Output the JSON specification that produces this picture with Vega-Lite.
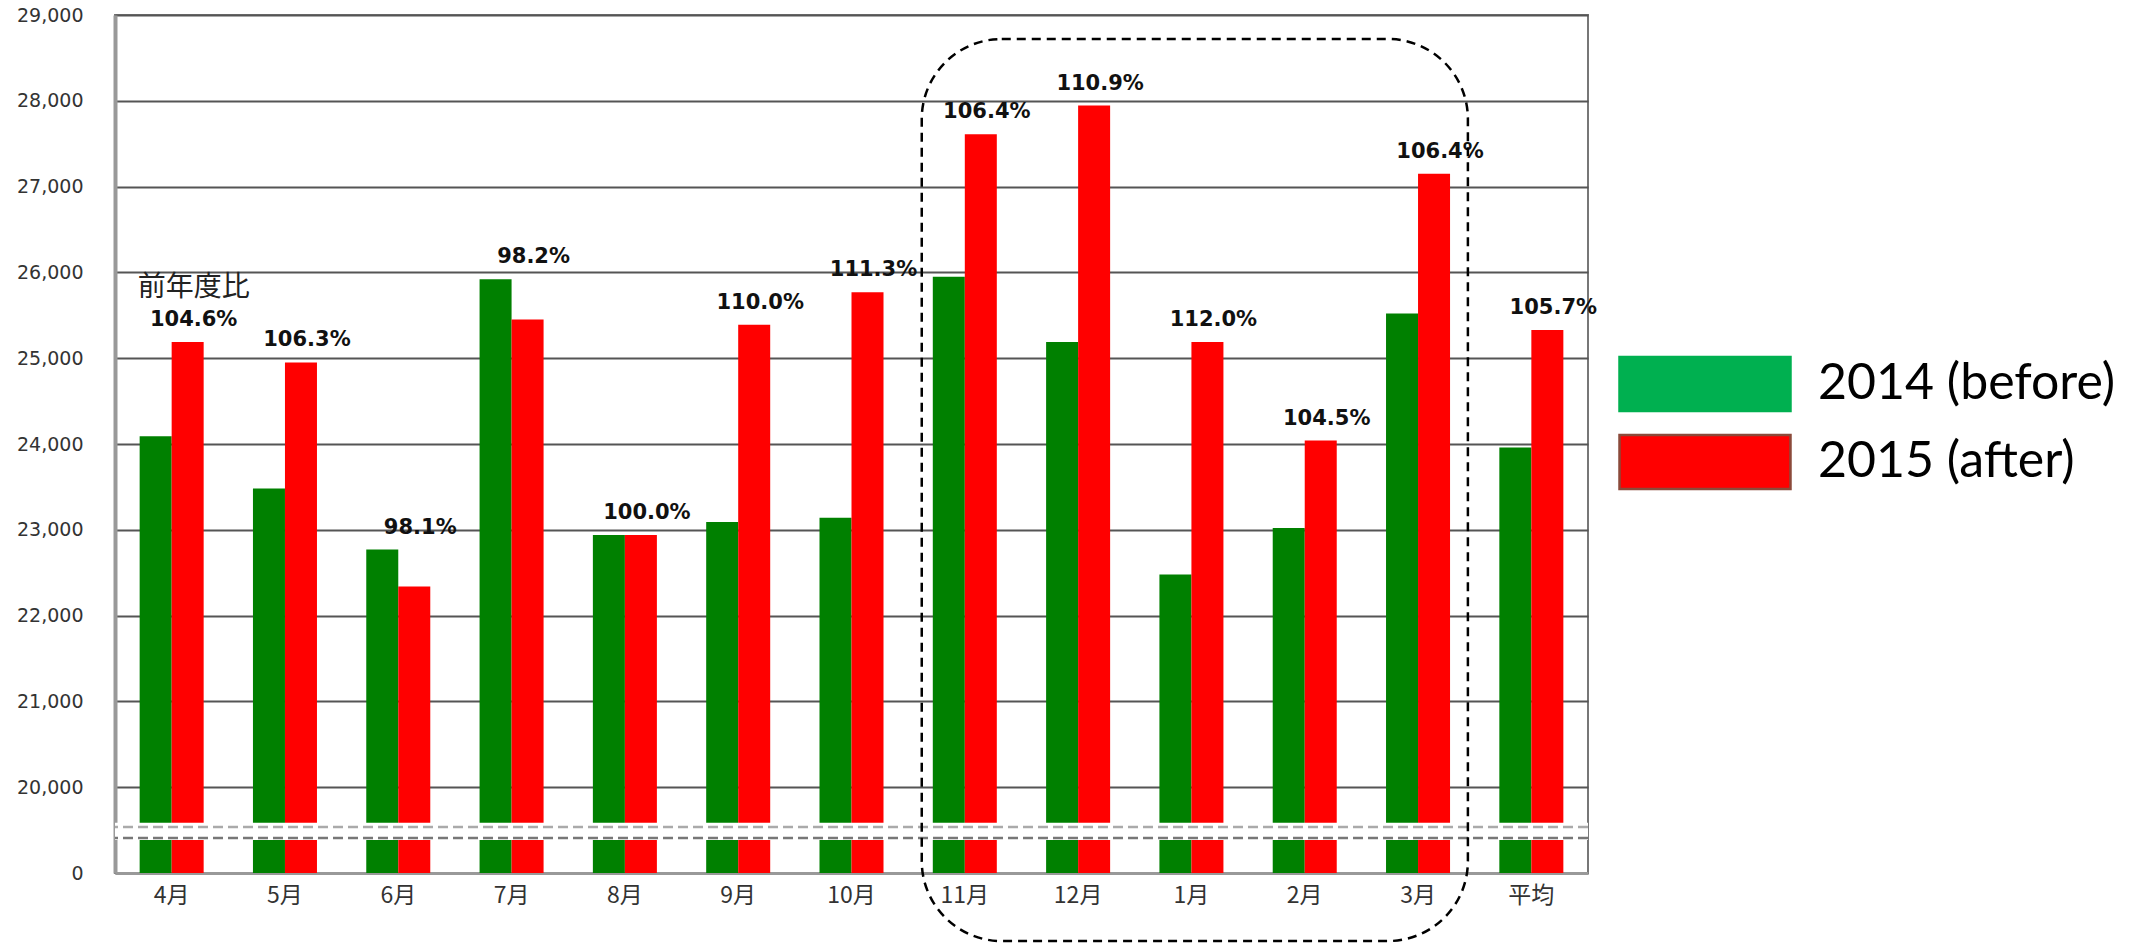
{
  "$schema": "https://vega.github.io/schema/vega-lite/v6.json",
  "width": 1473,
  "height": 858,
  "autosize": {"type": "none"},
  "padding": {"left": 115, "top": 15, "right": 553, "bottom": 72},
  "background": "white",
  "config": {
    "view": {"stroke": "#777", "strokeWidth": 2}
  },
  "data": {
    "values": [
      {"month": "4月", "series": "2014 (before)", "value": 24090, "ratio": "104.6%"},
      {"month": "4月", "series": "2015 (after)", "value": 25190, "ratio": "104.6%"},
      {"month": "5月", "series": "2014 (before)", "value": 23480, "ratio": "106.3%"},
      {"month": "5月", "series": "2015 (after)", "value": 24950, "ratio": "106.3%"},
      {"month": "6月", "series": "2014 (before)", "value": 22770, "ratio": "98.1%"},
      {"month": "6月", "series": "2015 (after)", "value": 22340, "ratio": "98.1%"},
      {"month": "7月", "series": "2014 (before)", "value": 25920, "ratio": "98.2%"},
      {"month": "7月", "series": "2015 (after)", "value": 25450, "ratio": "98.2%"},
      {"month": "8月", "series": "2014 (before)", "value": 22940, "ratio": "100.0%"},
      {"month": "8月", "series": "2015 (after)", "value": 22940, "ratio": "100.0%"},
      {"month": "9月", "series": "2014 (before)", "value": 23090, "ratio": "110.0%"},
      {"month": "9月", "series": "2015 (after)", "value": 25390, "ratio": "110.0%"},
      {"month": "10月", "series": "2014 (before)", "value": 23140, "ratio": "111.3%"},
      {"month": "10月", "series": "2015 (after)", "value": 25770, "ratio": "111.3%"},
      {"month": "11月", "series": "2014 (before)", "value": 25950, "ratio": "106.4%"},
      {"month": "11月", "series": "2015 (after)", "value": 27610, "ratio": "106.4%"},
      {"month": "12月", "series": "2014 (before)", "value": 25190, "ratio": "110.9%"},
      {"month": "12月", "series": "2015 (after)", "value": 27945, "ratio": "110.9%"},
      {"month": "1月", "series": "2014 (before)", "value": 22480, "ratio": "112.0%"},
      {"month": "1月", "series": "2015 (after)", "value": 25190, "ratio": "112.0%"},
      {"month": "2月", "series": "2014 (before)", "value": 23020, "ratio": "104.5%"},
      {"month": "2月", "series": "2015 (after)", "value": 24040, "ratio": "104.5%"},
      {"month": "3月", "series": "2014 (before)", "value": 25520, "ratio": "106.4%"},
      {"month": "3月", "series": "2015 (after)", "value": 27150, "ratio": "106.4%"},
      {"month": "平均", "series": "2014 (before)", "value": 23960, "ratio": "105.7%"},
      {"month": "平均", "series": "2015 (after)", "value": 25330, "ratio": "105.7%"}
    ]
  },
  "layer": [
    {
      "mark": {"type": "bar"},
      "encoding": {
        "x": {
          "field": "month",
          "type": "nominal",
          "scale": {
            "domain": ["4月", "5月", "6月", "7月", "8月", "9月", "10月", "11月", "12月", "1月", "2月", "3月", "平均"],
            "paddingInner": 0,
            "paddingOuter": 0
          },
          "axis": {
            "title": null,
            "labelAngle": 0,
            "ticks": false,
            "grid": false,
            "labelPadding": 11,
            "labelFont": "Noto Sans CJK JP",
            "labelFontSize": 23,
            "labelColor": "#333",
            "domainColor": "#999",
            "domainWidth": 3
          }
        },
        "xOffset": {
          "field": "series",
          "type": "nominal",
          "scale": {"paddingInner": 0, "paddingOuter": 0.77}
        },
        "y": {
          "field": "value",
          "type": "quantitative",
          "scale": {"domain": [19000, 29000], "zero": false, "nice": false},
          "axis": {
            "title": null,
            "values": [19000, 20000, 21000, 22000, 23000, 24000, 25000, 26000, 27000, 28000, 29000],
            "labelExpr": "datum.value == 19000 ? '0' : format(datum.value, ',')",
            "ticks": false,
            "labelPadding": 32,
            "labelFont": "DejaVu Sans",
            "labelFontSize": 19,
            "labelColor": "#333",
            "domainColor": "#999",
            "domainWidth": 4,
            "gridColor": "#555",
            "gridWidth": 2
          }
        },
        "y2": {"datum": 19000},
        "color": {
          "field": "series",
          "type": "nominal",
          "scale": {"range": ["#008000", "#FF0000"]},
          "legend": null
        }
      }
    },
    {
      "mark": {"type": "bar", "strokeWidth": 2.5},
      "encoding": {
        "x": {"field": "month", "type": "nominal"},
        "y": {"datum": 19490},
        "y2": {"datum": 19490},
        "fill": {
          "field": "series",
          "type": "nominal",
          "scale": {"domain": ["2014 (before)", "2015 (after)"], "range": ["#00B050", "#FF0000"]},
          "legend": {
            "title": null,
            "orient": "none",
            "legendX": 1501,
            "legendY": 325,
            "padding": 0,
            "symbolType": "M-2,-0.632L2,-0.632L2,0.632L-2,0.632Z",
            "symbolSize": 7310,
            "symbolOffset": 45,
            "symbolStrokeWidth": 2.5,
            "symbolOpacity": 1,
            "labelFont": "Lato",
            "labelFontSize": 50,
            "labelColor": "#000",
            "labelOffset": 69,
            "labelLimit": 0,
            "rowPadding": 1
          }
        },
        "stroke": {
          "field": "series",
          "type": "nominal",
          "scale": {"domain": ["2014 (before)", "2015 (after)"], "range": ["#00B050", "#8B4A3A"]},
          "legend": {
            "title": null,
            "orient": "none",
            "legendX": 1501,
            "legendY": 325,
            "padding": 0,
            "symbolType": "M-2,-0.632L2,-0.632L2,0.632L-2,0.632Z",
            "symbolSize": 7310,
            "symbolOffset": 45,
            "symbolStrokeWidth": 2.5,
            "symbolOpacity": 1,
            "labelFont": "Lato",
            "labelFontSize": 50,
            "labelColor": "#000",
            "labelOffset": 69,
            "labelLimit": 0,
            "rowPadding": 1
          }
        }
      }
    },
    {
      "data": {"values": [{}]},
      "mark": {"type": "rect", "fill": "white"},
      "encoding": {"y": {"datum": 19585}, "y2": {"datum": 19385}}
    },
    {
      "data": {"values": [{}]},
      "mark": {"type": "rule", "color": "#aaa", "strokeWidth": 2.5, "strokeDash": [10, 5]},
      "encoding": {"y": {"datum": 19536}}
    },
    {
      "data": {"values": [{}]},
      "mark": {"type": "rule", "color": "#777", "strokeWidth": 2.5, "strokeDash": [10, 5]},
      "encoding": {"y": {"datum": 19408}}
    },
    {
      "mark": {"type": "text", "font": "DejaVu Sans", "fontWeight": "bold", "fontSize": 21, "baseline": "alphabetic", "dy": -16, "dx": 6, "color": "#111"},
      "encoding": {
        "x": {"field": "month", "type": "nominal"},
        "xOffset": {"datum": "2015 (after)"},
        "y": {"aggregate": "max", "field": "value", "type": "quantitative"},
        "text": {"field": "ratio"}
      }
    },
    {
      "transform": [{"filter": "datum.month == '4月'"}],
      "mark": {"type": "text", "text": "前年度比", "font": "Noto Sans CJK JP", "fontSize": 28, "baseline": "alphabetic", "dy": -46, "dx": 6, "color": "#222"},
      "encoding": {
        "x": {"field": "month", "type": "nominal"},
        "xOffset": {"datum": "2015 (after)"},
        "y": {"aggregate": "max", "field": "value", "type": "quantitative"}
      }
    },
    {
      "data": {"values": [{}]},
      "mark": {"type": "rect", "fill": "white", "fillOpacity": 0, "stroke": "#000", "strokeWidth": 2.5, "strokeDash": [9, 6], "cornerRadius": 80, "clip": false},
      "encoding": {
        "x": {"datum": "11月", "bandPosition": 0.12},
        "x2": {"datum": "3月", "bandPosition": 0.94},
        "y": {"datum": 28720},
        "y2": {"datum": 18207}
      }
    }
  ]
}
